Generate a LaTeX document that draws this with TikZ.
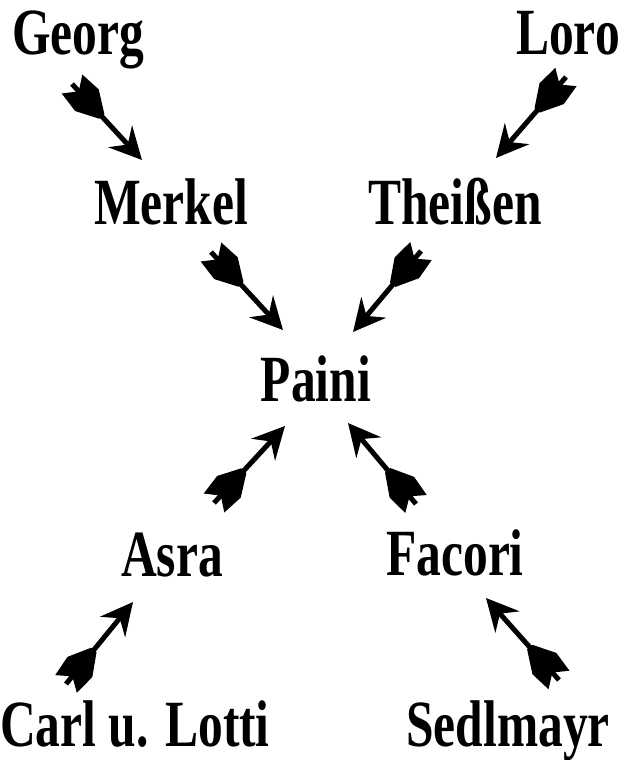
\documentclass[tikz,border=0pt]{standalone}
\usepackage{fontspec}
\setmainfont{Liberation Serif}[FakeStretch=0.75]
\usetikzlibrary{arrows.meta,decorations.markings}

\tikzset{
  personlabel/.style={font=\bfseries\fontsize{66}{70}\selectfont, inner sep=0pt, anchor=base},
  feathered/.style={
    line width=5pt, draw=black,
    -{Stealth[length=32pt, width=32pt, inset=11pt]},
    postaction={decorate},
    decoration={markings, mark=at position 0 with {
      \fill[black] (0pt,14pt) -- (22pt,16pt) -- (44pt,3.5pt) -- (44pt,-3.5pt)
        -- (22pt,-16pt) -- (0pt,-14pt) -- (10pt,0pt) -- cycle;
    }}
  }
}

\begin{document}
\begin{tikzpicture}[x=1pt, y=-1pt]
  \useasboundingbox (0,0) rectangle (630,760);

  % names
  \node[personlabel] (georg)  at (78,55)  {Georg};
  \node[personlabel] (loro)   at (568,55) {Loro};
  \node[personlabel] (merkel) at (171,224) {Merkel};
  \node[personlabel] (theis)  at (455,224) {Theißen};
  \node[personlabel] (paini)  at (316,401) {Paini};
  \node[personlabel] (asra)   at (172,576) {Asra};
  \node[personlabel] (facori) at (455,575) {Facori};
  \node[personlabel] (carl)   at (135,746) {Carl u. Lotti};
  \node[personlabel] (sedl)   at (508,746) {Sedlmayr};

  % arrow ends: tail (t) and tip (h)
  \coordinate (a1t) at (72,84);   \coordinate (a1h) at (142,160);
  \coordinate (a2t) at (566,77);  \coordinate (a2h) at (496,158);
  \coordinate (a3t) at (211,252); \coordinate (a3h) at (283,330);
  \coordinate (a4t) at (421,251); \coordinate (a4h) at (353,332);
  \coordinate (a5t) at (214,503); \coordinate (a5h) at (285,426);
  \coordinate (a6t) at (416,504); \coordinate (a6h) at (348,423);
  \coordinate (a7t) at (66,684);  \coordinate (a7h) at (133,602);
  \coordinate (a8t) at (559,680); \coordinate (a8h) at (486,598);

  % feathered arrows
  \draw[feathered] (a1t) -- (a1h);
  \draw[feathered] (a2t) -- (a2h);
  \draw[feathered] (a3t) -- (a3h);
  \draw[feathered] (a4t) -- (a4h);
  \draw[feathered] (a5t) -- (a5h);
  \draw[feathered] (a6t) -- (a6h);
  \draw[feathered] (a7t) -- (a7h);
  \draw[feathered] (a8t) -- (a8h);
\end{tikzpicture}
\end{document}
